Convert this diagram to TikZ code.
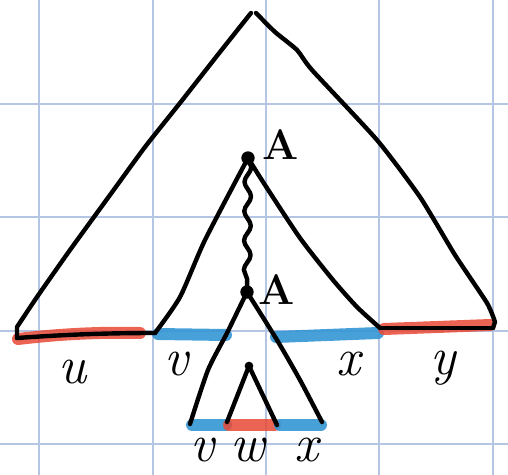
\documentclass[tikz,border=0pt]{standalone}
\usepackage{fontspec}
\usetikzlibrary{decorations.pathmorphing}
\definecolor{gridc}{RGB}{180,198,228}
\definecolor{redh}{RGB}{232,72,52}
\definecolor{blueh}{RGB}{52,150,212}
\tikzset{
  gridline/.style={draw=gridc, line width=0.8pt},
  ink/.style={draw=black, line width=3.3pt, line cap=round, line join=round},
  hlred/.style={draw=redh, line width=9pt, line cap=round, opacity=0.85},
  hlblue/.style={draw=blueh, line width=9pt, line cap=round, opacity=0.9},
  dotnode/.style={circle, fill=black, inner sep=0pt, minimum size=10pt},
  biglbl/.style={inner sep=0pt, font=\fontsize{40}{44}\selectfont\itshape},
  albl/.style={inner sep=0pt, font=\fontsize{32}{34}\selectfont\bfseries}
}
\begin{document}
\begin{tikzpicture}[x=0.75pt,y=-0.75pt]
\useasboundingbox (0,0) rectangle (508,475);
% grid
\foreach \gx in {39,153,266,379,493} \draw[gridline] (\gx,0) -- (\gx,475);
\foreach \gy in {104,217,331,444} \draw[gridline] (0,\gy) -- (508,\gy);
% coordinates
\coordinate (bl) at (17,338);
\coordinate (br) at (493,328);
\coordinate (ml) at (155,333);
\coordinate (mr) at (380,328);
\node[dotnode] (A1) at (248,158) {};
\node[dotnode] (A2) at (247,292) {};
\coordinate (ll) at (190,424);
\coordinate (lr) at (322,422);
\node[dotnode, minimum size=6.5pt] (ia) at (249,366) {};
\coordinate (il) at (227,422);
\coordinate (ir) at (277,425);
% highlights
\draw[hlred] (18,339) .. controls (60,334) and (100,332) .. (140,333);
\draw[hlblue] (158,334) -- (226,335);
\draw[hlblue] (276,337) -- (378,333);
\draw[hlred] (384,329) -- (490,325);
\draw[hlblue] (192,425) -- (226,425);
\draw[hlred] (229,425) -- (275,425);
\draw[hlblue] (280,425) -- (321,425);
% big triangle
\draw[ink] plot[smooth, tension=0.35] coordinates {(251,13) (220,52) (180,103) (145,147) (110,195) (70,250) (37,297) (17,327)} -- (bl);
\draw[ink] plot[smooth, tension=0.35] coordinates {(256,13) (275,32) (297,50) (312,70) (377,140) (420,197) (455,255) (487,303) (495,322)} -- (br);
\draw[ink] (bl) .. controls (60,335) and (100,333) .. (ml);
\draw[ink] (mr) -- (br);
% middle triangle
\draw[ink] plot[smooth, tension=0.4] coordinates {(ml) (180,297) (205,240) (A1.center)};
\draw[ink] plot[smooth, tension=0.4] coordinates {(A1.center) (265,185) (300,238) (333,280) (357,307) (mr)};
\draw[ink, decorate, decoration={snake, segment length=22pt, amplitude=2.5pt}] (A1.center) -- (A2.center);
% lower triangle
\draw[ink] plot[smooth, tension=0.4] coordinates {(ll) (208,370) (227,333) (A2.center)};
\draw[ink] plot[smooth, tension=0.4] coordinates {(A2.center) (277,340) (300,380) (lr)};
% inner triangle
\draw[ink] (il) -- (ia.center) -- (ir);
% labels
\node[albl] (lA1) at (281,145) {A};
\node[albl] (lA2) at (277,290) {A};
\node[biglbl] (lu) at (72,372) {u};
\node[biglbl] (lv) at (176,364) {v};
\node[biglbl] (lx) at (348,364) {x};
\node[biglbl] (ly) at (443,368) {y};
\node[biglbl] (lv2) at (202,450) {v};
\node[biglbl] (lw) at (248,450) {w};
\node[biglbl] (lx2) at (306,450) {x};
\end{tikzpicture}
\end{document}
